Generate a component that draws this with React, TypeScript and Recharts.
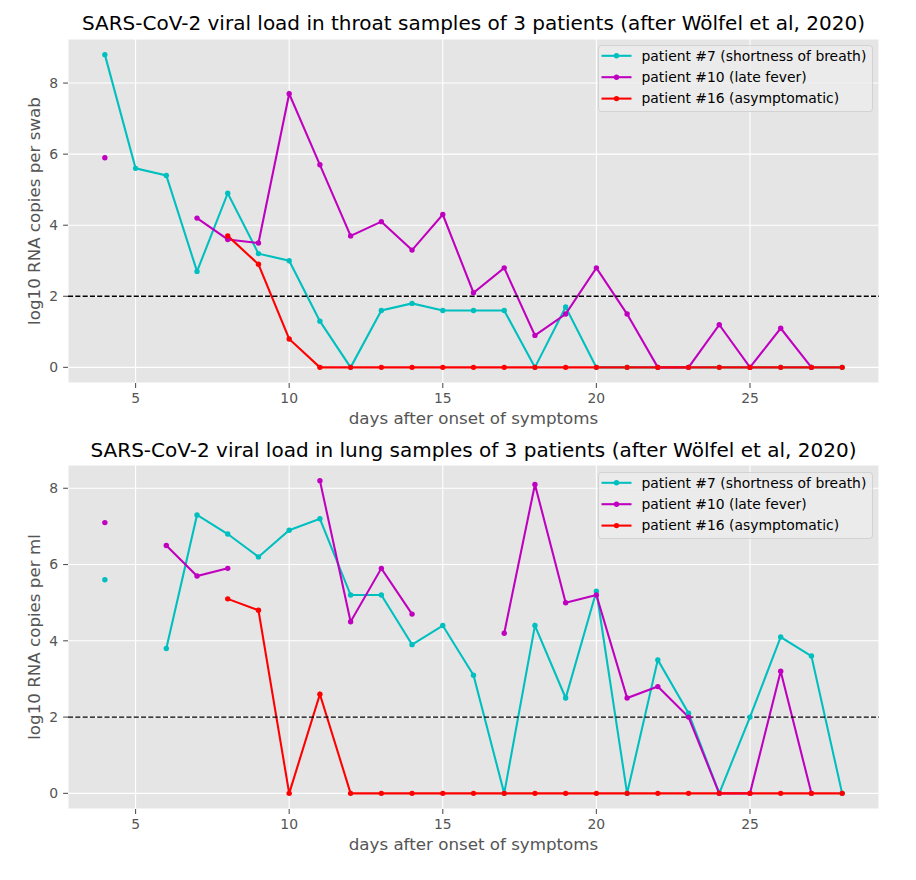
import React from 'react';
import { LineChart, Line, XAxis, YAxis, CartesianGrid, ReferenceLine, Legend } from 'recharts';

// ---- data (days after onset of symptoms) ----
const DAYS = [4, 5, 6, 7, 8, 9, 10, 11, 12, 13, 14, 15, 16, 17, 18, 19, 20, 21, 22, 23, 24, 25, 26, 27, 28];

// throat swabs, log10 RNA copies per swab
const THROAT_P7 = [8.8, 5.6, 5.4, 2.7, 4.9, 3.2, 3.0, 1.3, 0, 1.6, 1.8, 1.6, 1.6, 1.6, 0, 1.7, 0, 0, 0, 0, 0, 0, 0, 0, 0];
const THROAT_P10 = [5.9, null, null, 4.2, 3.6, 3.5, 7.7, 5.7, 3.7, 4.1, 3.3, 4.3, 2.1, 2.8, 0.9, 1.5, 2.8, 1.5, 0, 0, 1.2, 0, 1.1, 0, null];
const THROAT_P16 = [null, null, null, null, 3.7, 2.9, 0.8, 0, 0, 0, 0, 0, 0, 0, 0, 0, 0, 0, 0, 0, 0, 0, 0, 0, 0];

// lung (sputum) samples, log10 RNA copies per ml
const LUNG_P7 = [5.6, null, 3.8, 7.3, 6.8, 6.2, 6.9, 7.2, 5.2, 5.2, 3.9, 4.4, 3.1, 0, 4.4, 2.5, 5.3, 0, 3.5, 2.1, 0, 2.0, 4.1, 3.6, 0];
const LUNG_P10 = [7.1, null, 6.5, 5.7, 5.9, null, null, 8.2, 4.5, 5.9, 4.7, null, null, 4.2, 8.1, 5.0, 5.2, 2.5, 2.8, 2.0, 0, 0, 3.2, 0, null];
const LUNG_P16 = [null, null, null, null, 5.1, 4.8, 0, 2.6, 0, 0, 0, 0, 0, 0, 0, 0, 0, 0, 0, 0, 0, 0, 0, 0, 0];

const SERIES_KEYS = ['p7', 'p10', 'p16'];
const SERIES_LABELS = ['patient #7 (shortness of breath)', 'patient #10 (late fever)', 'patient #16 (asymptomatic)'];
const SERIES_COLORS = ['#00BFBF', '#BF00BF', '#FF0000'];

const X_TICKS = [5, 10, 15, 20, 25];
const Y_TICKS = [0, 2, 4, 6, 8];
const DETECTION_LIMIT = 2;

const TITLES = [
  'SARS-CoV-2 viral load in throat samples of 3 patients (after Wölfel et al, 2020)',
  'SARS-CoV-2 viral load in lung samples of 3 patients (after Wölfel et al, 2020)',
];
const X_LABEL = 'days after onset of symptoms';
const Y_LABELS = ['log10 RNA copies per swab', 'log10 RNA copies per ml'];

const FONT = '"DejaVu Sans", Verdana, sans-serif';

const buildRows = (a: (number | null)[], b: (number | null)[], c: (number | null)[]) =>
  DAYS.map((d, i) => ({ day: d, p7: a[i], p10: b[i], p16: c[i] }));

const throatRows = buildRows(THROAT_P7, THROAT_P10, THROAT_P16);
const lungRows = buildRows(LUNG_P7, LUNG_P10, LUNG_P16);

const LegendBox = () => (
  <svg width={275} height={67} style={{ display: 'block' }}>
    <rect x={0.5} y={0.5} width={274} height={66} rx={3} ry={3} fill="rgba(236,236,236,0.8)" stroke="rgba(204,204,204,0.8)" strokeWidth={1} />
    {SERIES_LABELS.map((label, i) => {
      const cy = 10.8 + i * 21.4;
      return (
        <g key={label}>
          <line x1={3.5} x2={33.5} y1={cy} y2={cy} stroke={SERIES_COLORS[i]} strokeWidth={2.08} />
          <circle cx={18.5} cy={cy} r={2.7} fill={SERIES_COLORS[i]} />
          <text x={43.5} y={cy + 4.8} fontSize={13.9} fontFamily={FONT} fill="#000">{label}</text>
        </g>
      );
    })}
  </svg>
);

type PanelProps = {
  rows: any[];
  yDomain: [number, number];
  top: number;
  height: number;
  marginTop: number;
  xAxisHeight: number;
  legendTop: number;
};

const Panel = ({ rows, yDomain, top, height, marginTop, xAxisHeight, legendTop }: PanelProps) => (
  <div style={{ position: 'absolute', left: 0, top, width: 916, height }}>
    <LineChart width={916} height={height} data={rows} margin={{ top: marginTop, right: 37, bottom: 0, left: 0 }}>
      <CartesianGrid fill="#E5E5E5" fillOpacity={1} stroke="#FFFFFF" strokeWidth={1.1} />
      <XAxis
        dataKey="day"
        type="number"
        domain={[2.8, 29.2]}
        allowDataOverflow
        ticks={X_TICKS}
        interval={0}
        height={xAxisHeight}
        axisLine={false}
        tickSize={4.9}
        tickMargin={4.9}
        tickLine={{ stroke: '#555555', strokeWidth: 1.1 }}
        tick={{ fill: '#555555', fontSize: 13.9, fontFamily: FONT }}
      />
      <YAxis
        type="number"
        domain={yDomain}
        allowDataOverflow
        ticks={Y_TICKS}
        interval={0}
        width={68}
        axisLine={false}
        tickSize={4.9}
        tickMargin={4.9}
        tickLine={{ stroke: '#555555', strokeWidth: 1.1 }}
        tick={{ fill: '#555555', fontSize: 13.9, fontFamily: FONT }}
      />
      {SERIES_KEYS.map((k, i) => (
        <Line
          key={k}
          type="linear"
          dataKey={k}
          name={SERIES_LABELS[i]}
          stroke={SERIES_COLORS[i]}
          strokeWidth={2.08}
          dot={{ r: 2.7, fill: SERIES_COLORS[i], stroke: SERIES_COLORS[i], strokeWidth: 0 }}
          activeDot={false}
          connectNulls={false}
          isAnimationActive={false}
        />
      ))}
      <ReferenceLine y={DETECTION_LIMIT} stroke="#000000" strokeWidth={1.4} strokeDasharray="5.1 2.2" />
      <Legend
        layout="horizontal"
        verticalAlign="middle"
        align="center"
        wrapperStyle={{ left: 597.5, top: legendTop, width: 275, height: 67 }}
        content={() => <LegendBox />}
      />
    </LineChart>
  </div>
);

export default function App() {
  return (
    <div style={{ position: 'absolute', left: 0, top: 0, width: 916, height: 880, background: '#ffffff', fontFamily: FONT }}>
      <Panel rows={throatRows} yDomain={[-0.44, 9.24]} top={0} height={440} marginTop={39} xAxisHeight={57} legendTop={45} />
      <Panel rows={lungRows} yDomain={[-0.41, 8.61]} top={440} height={440} marginTop={25} xAxisHeight={71} legendTop={31.7} />
      <svg width={916} height={880} style={{ position: 'absolute', left: 0, top: 0, pointerEvents: 'none' }}>
        <text x={473.5} y={30} textAnchor="middle" fontSize={20} fontFamily={FONT} fill="#000">{TITLES[0]}</text>
        <text x={473.5} y={424} textAnchor="middle" fontSize={16.7} fontFamily={FONT} fill="#555555">{X_LABEL}</text>
        <text x={40} y={211} textAnchor="middle" fontSize={16.7} fontFamily={FONT} fill="#555555" transform="rotate(-90 40 211)">{Y_LABELS[0]}</text>
        <text x={473.5} y={457} textAnchor="middle" fontSize={20} fontFamily={FONT} fill="#000">{TITLES[1]}</text>
        <text x={473.5} y={850} textAnchor="middle" fontSize={16.7} fontFamily={FONT} fill="#555555">{X_LABEL}</text>
        <text x={40} y={637} textAnchor="middle" fontSize={16.7} fontFamily={FONT} fill="#555555" transform="rotate(-90 40 637)">{Y_LABELS[1]}</text>
      </svg>
    </div>
  );
}
